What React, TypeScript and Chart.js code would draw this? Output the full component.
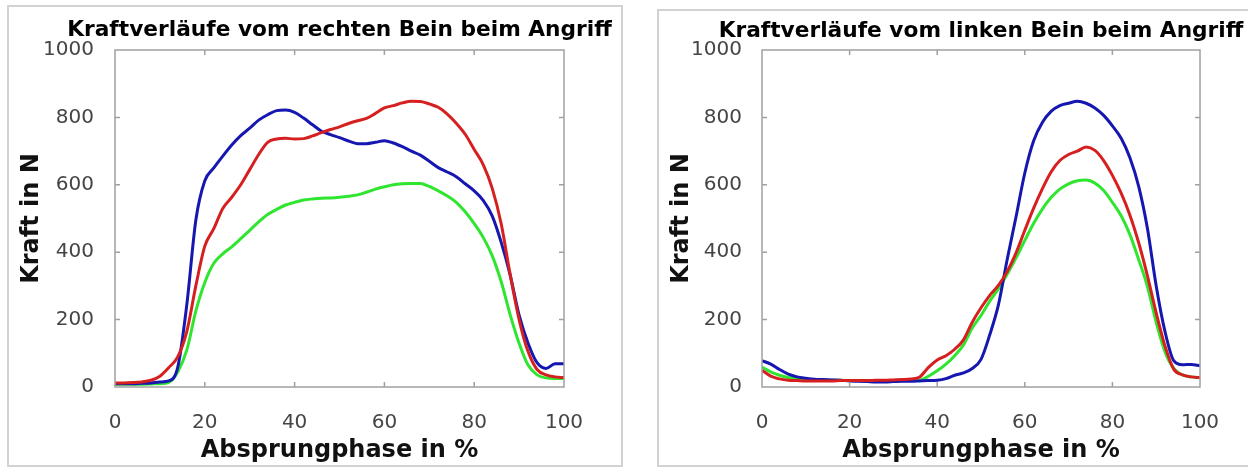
import React, { useEffect, useRef } from 'react';
import { Chart, registerables } from 'chart.js';

Chart.register(...registerables);

// Absprungphase in % (x values)
const phase = [0, 2, 4, 6, 8, 10, 12, 14, 16, 18, 20, 22, 24, 26, 28, 30, 32, 34, 36, 38, 40, 42, 44, 46, 48, 50,
  52, 54, 56, 58, 60, 62, 64, 66, 68, 70, 72, 74, 76, 78, 80, 82, 84, 86, 88, 90, 92, 94, 96, 98, 100];

// Rechtes Bein (left panel)
const rechtsBlau = [10, 10, 10, 11, 12, 15, 18, 60, 245, 495, 612, 650, 685, 718, 746, 768, 792, 808, 820, 822, 815, 798, 778, 759, 749, 740,
  730, 722, 722, 726, 731, 724, 713, 700, 688, 670, 651, 638, 624, 603, 582, 554, 508, 430, 333, 213, 130, 72, 55, 69, 69];
const rechtsRot = [12, 12, 13, 15, 20, 32, 58, 90, 165, 300, 418, 470, 530, 563, 600, 645, 690, 726, 736, 738, 736, 737, 745, 755, 764, 772,
  782, 790, 797, 812, 828, 835, 843, 848, 847, 840, 830, 810, 783, 750, 705, 660, 590, 485, 335, 200, 105, 52, 36, 30, 28];
const rechtsGruen = [8, 8, 8, 8, 9, 10, 14, 45, 110, 225, 310, 367, 395, 416, 440, 465, 490, 512, 527, 540, 548, 555, 558, 560, 561, 563,
  566, 570, 578, 587, 594, 600, 603, 604, 604, 595, 582, 567, 548, 520, 485, 444, 390, 313, 215, 130, 65, 36, 27, 25, 25];

// Linkes Bein (right panel)
const linksBlau = [78, 68, 52, 38, 30, 26, 23, 22, 21, 20, 18, 17, 16, 15, 15, 16, 17, 17, 18, 19, 20, 25, 35, 42, 55, 82,
  155, 245, 380, 505, 635, 730, 785, 818, 835, 842, 848, 842, 828, 806, 775, 738, 680, 595, 470, 300, 165, 78, 66, 67, 63];
const linksRot = [50, 32, 24, 20, 19, 18, 18, 18, 18, 19, 19, 19, 19, 20, 20, 21, 22, 24, 30, 58, 80, 93, 112, 140, 192, 235,
  272, 302, 343, 398, 465, 530, 588, 638, 672, 690, 700, 712, 702, 672, 628, 575, 510, 428, 330, 220, 122, 53, 36, 30, 28];
const linksGruen = [59, 45, 35, 28, 24, 22, 21, 20, 20, 20, 19, 19, 18, 18, 18, 19, 19, 20, 20, 32, 48, 68, 93, 125, 175, 212,
  255, 292, 335, 383, 435, 485, 528, 562, 587, 603, 612, 614, 605, 583, 548, 508, 452, 378, 298, 192, 105, 55, 36, 30, 28];

const xTicks = [0, 20, 40, 60, 80, 100];
const yTicks = [0, 200, 400, 600, 800, 1000];

const titleLeft = 'Kraftverläufe vom rechten Bein beim Angriff';
const titleRight = 'Kraftverläufe vom linken Bein beim Angriff';
const xTitle = 'Absprungphase in %';
const yTitle = 'Kraft in N';

const BLUE = '#1616b0';
const RED = '#d62020';
const GREEN = '#2fe52f';

const framePlugin = {
  id: 'matFrame',
  afterDatasetsDraw(chart: any) {
    const { ctx, chartArea, scales } = chart;
    const { left, right, top, bottom } = chartArea;
    ctx.save();
    ctx.strokeStyle = '#a0a0a0';
    ctx.lineWidth = 1.5;
    ctx.strokeRect(left, top, right - left, bottom - top);
    const len = 5;
    ctx.beginPath();
    for (const v of xTicks.slice(1, -1)) {
      const px = scales.x.getPixelForValue(v);
      ctx.moveTo(px, bottom); ctx.lineTo(px, bottom - len);
      ctx.moveTo(px, top); ctx.lineTo(px, top + len);
    }
    for (const v of yTicks.slice(1, -1)) {
      const py = scales.y.getPixelForValue(v);
      ctx.moveTo(left, py); ctx.lineTo(left + len, py);
      ctx.moveTo(right, py); ctx.lineTo(right - len, py);
    }
    ctx.stroke();
    ctx.restore();
  },
};

function makeTitlePlugin(text: string, baseline: number) {
  return {
    id: 'matTitle',
    afterDraw(chart: any) {
      const { ctx, chartArea } = chart;
      ctx.save();
      ctx.font = 'bold 21.7px "DejaVu Sans"';
      ctx.fillStyle = '#000000';
      ctx.textAlign = 'center';
      ctx.textBaseline = 'alphabetic';
      ctx.fillText(text, (chartArea.left + chartArea.right) / 2, baseline);
      ctx.restore();
    },
  };
}

// outer light-grey panel box, given in canvas pixels
function makeBoxPlugin(x: number, y: number, w: number, h: number) {
  return {
    id: 'panelBox',
    beforeDraw(chart: any) {
      const { ctx } = chart;
      ctx.save();
      ctx.fillStyle = '#ffffff';
      ctx.fillRect(0, 0, chart.width, chart.height);
      ctx.strokeStyle = '#d2d2d2';
      ctx.lineWidth = 2;
      ctx.strokeRect(x, y, w, h);
      ctx.restore();
    },
  };
}

type Series = { values: number[]; color: string };

type PanelProps = {
  title: string;
  series: Series[];
  left: number;
  width: number;
  plotLeft: number;
  plotRight: number;
  yTitleCenter: number;
  yTickPad: number;
  titleBaseline: number;
  box: [number, number, number, number];
};

function Panel(p: PanelProps) {
  const ref = useRef<HTMLCanvasElement>(null);
  useEffect(() => {
    const chart = new Chart(ref.current as HTMLCanvasElement, {
      type: 'line',
      data: {
        datasets: p.series.map((s) => ({
          data: phase.map((x, i) => ({ x, y: s.values[i] })),
          borderColor: s.color,
          backgroundColor: s.color,
          borderWidth: 3,
          pointRadius: 0,
          fill: false,
          cubicInterpolationMode: 'monotone' as const,
        })),
      },
      options: {
        responsive: false,
        animation: false,
        layout: { padding: { top: 50, left: 0, bottom: 0, right: p.width - p.plotRight } },
        plugins: {
          legend: { display: false },
          tooltip: { enabled: false },
          title: { display: false },
        },
        scales: {
          x: {
            type: 'linear',
            min: 0,
            max: 100,
            afterBuildTicks: (s: any) => { s.ticks = xTicks.map((v) => ({ value: v })); },
            afterFit: (s: any) => { s.height = 81; },
            grid: { display: false },
            border: { display: false },
            ticks: {
              padding: 15.5,
              color: '#454545',
              font: { family: '"DejaVu Sans"', size: 20 },
              maxRotation: 0,
              callback: (v: any) => String(v),
            },
            title: {
              display: true,
              text: xTitle,
              color: '#111111',
              font: { family: '"DejaVu Sans"', size: 24, weight: 'bold' },
              padding: { top: 0, bottom: 2.6 },
            },
          },
          y: {
            type: 'linear',
            min: 0,
            max: 1000,
            afterBuildTicks: (s: any) => { s.ticks = yTicks.map((v) => ({ value: v })); },
            afterFit: (s: any) => { s.width = p.plotLeft; },
            grid: { display: false },
            border: { display: false },
            ticks: {
              padding: p.yTickPad,
              color: '#454545',
              font: { family: '"DejaVu Sans"', size: 20 },
              callback: (v: any) => String(v),
            },
            title: {
              display: true,
              text: yTitle,
              color: '#111111',
              font: { family: '"DejaVu Sans"', size: 24, weight: 'bold' },
              padding: { top: p.yTitleCenter - 14.4, bottom: 0 },
            },
          },
        },
      },
      plugins: [makeBoxPlugin(...p.box), framePlugin, makeTitlePlugin(p.title, p.titleBaseline)],
    } as any);
    return () => chart.destroy();
  }, []);
  return (
    <canvas
      ref={ref}
      width={p.width}
      height={468}
      style={{ position: 'absolute', left: p.left, top: 0, width: p.width, height: 468, display: 'block' }}
    />
  );
}

export default function App() {
  return (
    <div style={{ position: 'fixed', left: 0, top: 0, width: 1248, height: 468, overflow: 'hidden', background: '#ffffff' }}>
      <Panel
        title={titleLeft}
        series={[
          { values: rechtsRot, color: RED },
          { values: rechtsBlau, color: BLUE },
          { values: rechtsGruen, color: GREEN },
        ]}
        left={0}
        width={640}
        plotLeft={115}
        plotRight={564}
        yTitleCenter={32}
        yTickPad={13}
        titleBaseline={36}
        box={[8, 6, 614, 460]}
      />
      <Panel
        title={titleRight}
        series={[
          { values: linksRot, color: RED },
          { values: linksBlau, color: BLUE },
          { values: linksGruen, color: GREEN },
        ]}
        left={640}
        width={608}
        plotLeft={122}
        plotRight={560}
        yTitleCenter={42}
        yTickPad={12}
        titleBaseline={37}
        box={[18, 10, 620, 456]}
      />
    </div>
  );
}
